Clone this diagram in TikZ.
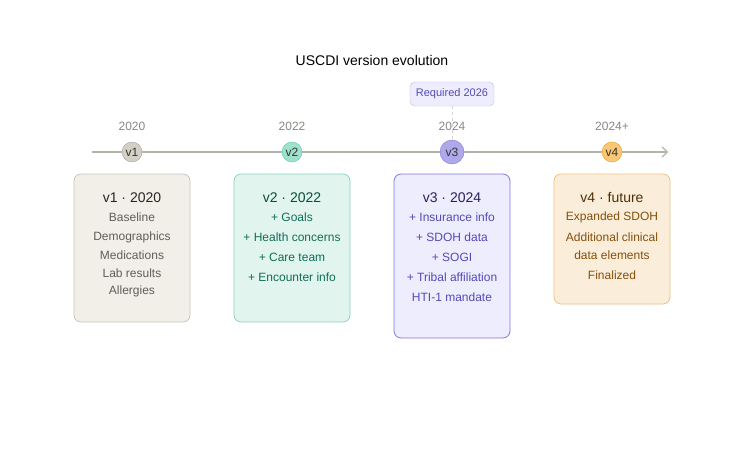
\documentclass[tikz,border=0pt]{standalone}
\usepackage{fontspec}
\setmainfont{Liberation Sans}
\usepackage{xcolor}
\usetikzlibrary{arrows.meta}

\definecolor{grayfill}{HTML}{F1EFE8}
\definecolor{grayline}{HTML}{C9C6BD}
\definecolor{graytext}{HTML}{5F5E5A}
\definecolor{grayball}{HTML}{D3D1C7}
\definecolor{grayrim}{HTML}{A3A199}
\definecolor{greenfill}{HTML}{E1F5EE}
\definecolor{greenline}{HTML}{8ED5BC}
\definecolor{greentext}{HTML}{0F6E56}
\definecolor{greenball}{HTML}{9FE1CB}
\definecolor{greenrim}{HTML}{5DCAA5}
\definecolor{purpfill}{HTML}{EEEDFE}
\definecolor{purpline}{HTML}{7F77DD}
\definecolor{purptext}{HTML}{534AB7}
\definecolor{purptitle}{HTML}{26215C}
\definecolor{purpball}{HTML}{AFA9EC}
\definecolor{purpreq}{HTML}{BDB7F0}
\definecolor{orfill}{HTML}{FAEEDA}
\definecolor{orline}{HTML}{EAC386}
\definecolor{ortext}{HTML}{854F0B}
\definecolor{orball}{HTML}{FAC775}
\definecolor{orrim}{HTML}{EF9F27}
\definecolor{axis}{HTML}{B4B2A9}
\definecolor{yeartext}{HTML}{888780}

\tikzset{
    VC/.style ={circle,minimum size=20pt,inner sep=0pt,font=\fontsize{12}{14}\selectfont,text=black!80},
    VB/.style ={rectangle,rounded corners=7pt,minimum width=116pt,line width=0.8pt},
    YR/.style ={text=yeartext,font=\fontsize{12}{14}\selectfont},
    TT/.style ={font=\fontsize{14}{16}\selectfont},
    LN/.style ={font=\fontsize{12}{14}\selectfont}
}

\begin{document}
\begin{tikzpicture}[x=1pt,y=-1pt]
        \useasboundingbox (0,0) rectangle (744,468);
        \node[TT] (title) at(372,60) {USCDI version evolution};

        % timeline
        \coordinate (tl1) at(92,152);
        \coordinate (tl2) at(668,152);
        \draw[axis,line width=1.2pt,-{Straight Barb[length=5pt,width=10pt]}](tl1)--(tl2);

        % version boxes
        \node[VB,draw=grayline,fill=grayfill,minimum height=148pt] (b1) at(132,248) {};
        \node[VB,draw=greenline,fill=greenfill,minimum height=148pt] (b2) at(292,248) {};
        \node[VB,draw=purpline,fill=purpfill,minimum height=164pt] (b3) at(452,256) {};
        \node[VB,draw=orline,fill=orfill,minimum height=130pt] (b4) at(612,239) {};

        % version markers
        \node[VC,draw=grayrim,fill=grayball] (v1) at(132,152) {v1};
        \node[VC,draw=greenrim,fill=greenball] (v2) at(292,152) {v2};
        \node[VC,draw=purpline,fill=purpball,minimum size=24pt] (v3) at(452,152) {v3};
        \node[VC,draw=orrim,fill=orball] (v4) at(612,152) {v4};

        \node[YR] (y1) at(132,126) {2020};
        \node[YR] (y2) at(292,126) {2022};
        \node[YR] (y3) at(452,126) {2024};
        \node[YR] (y4) at(612,126) {2024+};

        % mandate tag on v3
        \node[rectangle,rounded corners=5pt,draw=purpreq,fill=purpfill,text=purptext,
              minimum width=84pt,minimum height=24pt,inner sep=0pt,
              font=\fontsize{11}{13}\selectfont] (req) at(452,94) {Required 2026};
        \draw[black!18,dashed,line width=1pt](req.south)--(v3.north);

        % v1 content
        \node[TT,text=black!85] (t1) at(132,198) {v1 · 2020};
        \node[LN,text=graytext] at(132,217) {Baseline};
        \node[LN,text=graytext] at(132,237) {Demographics};
        \node[LN,text=graytext] at(132,255) {Medications};
        \node[LN,text=graytext] at(132,273) {Lab results};
        \node[LN,text=graytext] at(132,291) {Allergies};

        % v2 content
        \node[TT,text=greentext!70!black] (t2) at(292,198) {v2 · 2022};
        \node[LN,text=greentext] at(292,217) {+ Goals};
        \node[LN,text=greentext] at(292,237) {+ Health concerns};
        \node[LN,text=greentext] at(292,257) {+ Care team};
        \node[LN,text=greentext] at(292,277) {+ Encounter info};

        % v3 content
        \node[TT,text=purptitle] (t3) at(452,198) {v3 · 2024};
        \node[LN,text=purptext] at(452,217) {+ Insurance info};
        \node[LN,text=purptext] at(452,237) {+ SDOH data};
        \node[LN,text=purptext] at(452,257) {+ SOGI};
        \node[LN,text=purptext] at(452,277) {+ Tribal affiliation};
        \node[LN,text=purptext] at(452,297) {HTI-1 mandate};

        % v4 content
        \node[TT,text=ortext!60!black] (t4) at(612,198) {v4 · future};
        \node[LN,text=ortext] at(612,217) {Expanded SDOH};
        \node[LN,text=ortext] at(612,237) {Additional clinical};
        \node[LN,text=ortext] at(612,255) {data elements};
        \node[LN,text=ortext] at(612,275) {Finalized};
    \end{tikzpicture}
\end{document}
